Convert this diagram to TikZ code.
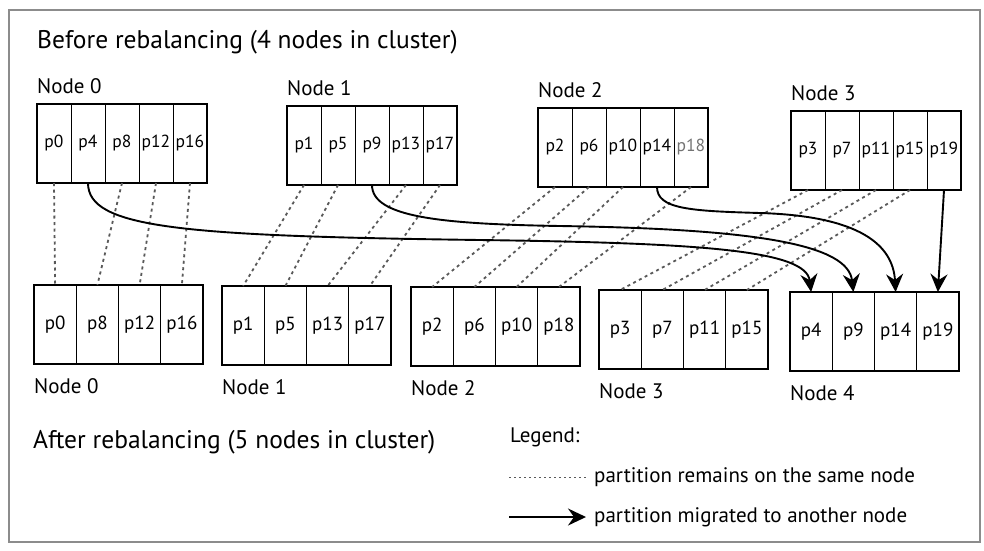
\documentclass[tikz,border=0pt]{standalone}
\usepackage{fontspec}
\setmainfont{PT Sans}
\usetikzlibrary{arrows.meta}
\begin{document}
\begin{tikzpicture}[x=1pt,y=-1pt,
  tcell/.style={draw, line width=0.8pt, minimum width=34pt, minimum height=79pt, inner sep=0pt, outer sep=0pt, font=\fontsize{17.5}{20}\selectfont, anchor=north west},
  bcell/.style={tcell, minimum width=42.25pt, font=\fontsize{19}{21}\selectfont},
  lbl/.style={anchor=west, inner sep=0pt, font=\fontsize{21}{24}\selectfont},
  ttl/.style={anchor=west, inner sep=0pt, font=\fontsize{25.5}{30}\selectfont},
  stay/.style={draw=black!65, line width=1.8pt, dash pattern=on 3pt off 3.5pt},
  move/.style={draw=black, line width=1.9pt, -{Stealth[length=18pt,width=17pt,inset=6pt]}},
  boxline/.style={line width=1.5pt},
]
\useasboundingbox (0,0) rectangle (984,550);
\draw[draw=black!45, line width=1.2pt] (9,10) rectangle (980,542);

\node[ttl] (before) at (37,42) {Before rebalancing (4 nodes in cluster)};
\node[ttl] (after) at (33,442) {After rebalancing (5 nodes in cluster)};

\foreach \n/\x/\y in {0/37/104,1/287/106,2/538/108,3/791/111}{
  \foreach \i in {0,...,4}{
    \pgfmathtruncatemacro\p{4*\i+\n}
    \ifnum\p=18 \def\cc{black!55}\else\def\cc{black}\fi
    \node[tcell, text=\cc] (t\n-\i) at (\x+34*\i,\y) {p\p};
  }
  \draw[boxline] (t\n-0.north west) rectangle (t\n-4.south east);
  \node[lbl] (tl\n) at (\x,\y-18) {Node \n};
}

\foreach \n/\x/\y/\lst in {0/34/285/{0,8,12,16},1/222/286/{1,5,13,17},2/411/287/{2,6,10,18},3/599/290/{3,7,11,15},4/790/292/{4,9,14,19}}{
  \foreach \p [count=\i from 0] in \lst {
    \node[bcell] (b\n-\i) at (\x+42.25*\i,\y) {p\p};
  }
  \draw[boxline] (b\n-0.north west) rectangle (b\n-3.south east);
  \node[lbl] (bl\n) at (\x,\y+101) {Node \n};
}

% partitions that stay
\draw[stay] (t0-0.south) -- (b0-0.north);
\draw[stay] (t0-2.south) -- (b0-1.north);
\draw[stay] (t0-3.south) -- (b0-2.north);
\draw[stay] (t0-4.south) -- (b0-3.north);
\draw[stay] (t1-0.south) -- (b1-0.north);
\draw[stay] (t1-1.south) -- (b1-1.north);
\draw[stay] (t1-3.south) -- (b1-2.north);
\draw[stay] (t1-4.south) -- (b1-3.north);
\draw[stay] (t2-0.south) -- (b2-0.north);
\draw[stay] (t2-1.south) -- (b2-1.north);
\draw[stay] (t2-2.south) -- (b2-2.north);
\draw[stay] (t2-4.south) -- (b2-3.north);
\draw[stay] (t3-0.south) -- (b3-0.north);
\draw[stay] (t3-1.south) -- (b3-1.north);
\draw[stay] (t3-2.south) -- (b3-2.north);
\draw[stay] (t3-3.south) -- (b3-3.north);

% migrated partitions
\draw[move] (t0-1.south) .. controls +(0,45) and (180,236) .. (480,240) .. controls (700,243) and (806,250) .. (b4-0.north);
\draw[move] (t1-2.south) .. controls +(0,32) and (440,224) .. (560,226) .. controls (760,229) and (848,245) .. (b4-1.north);
\draw[move] (t2-3.south) .. controls +(0,22) and (690,211) .. (760,213) .. controls (860,216) and (893,245) .. (b4-2.north);
\draw[move] (t3-4.south) -- (b4-3.north);

% legend
\node[lbl] (leg) at (510,437) {Legend:};
\coordinate (d1) at (509,477);
\coordinate (d2) at (586,477);
\draw[stay, line width=1pt, dash pattern=on 2pt off 3pt] (d1) -- (d2);
\node[lbl] (legd) at (594,477) {partition remains on the same node};
\coordinate (a1) at (509,517);
\coordinate (a2) at (586,517);
\draw[move] (a1) -- (a2);
\node[lbl] (lega) at (594,517) {partition migrated to another node};
\end{tikzpicture}
\end{document}
